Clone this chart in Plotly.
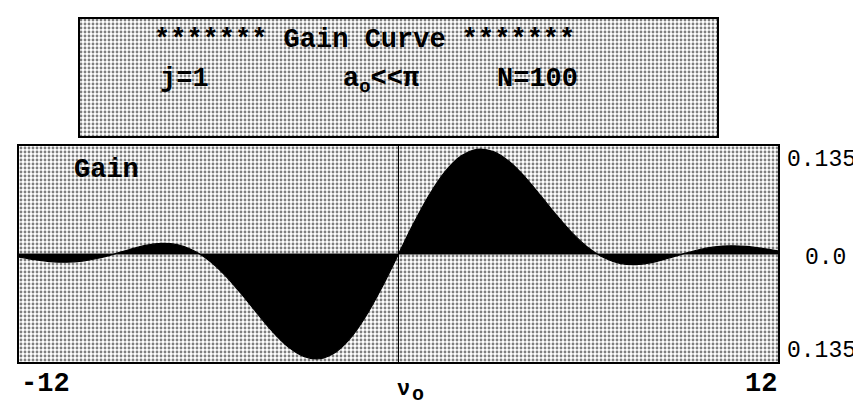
import plotly.graph_objects as go

W, H = 861, 408

# Detuning values (nu_o) and gain
nu = [-12, -11.5, -11, -10.5, -10, -9.5, -9, -8.5, -8, -7.5, -7, -6.5, -6, -5.5, -5,
      -4.5, -4, -3.5, -3, -2.5, -2, -1.5, -1, -0.5, 0, 0.5, 1, 1.5, 2, 2.5, 3, 3.5,
      4, 4.5, 5, 5.5, 6, 6.5, 7, 7.5, 8, 8.5, 9, 9.5, 10, 10.5, 11, 11.5, 12]
gain = [-0.0039, -0.0073, -0.0098, -0.0105, -0.0091, -0.0055, -0.0002, 0.0058, 0.0110,
        0.0136, 0.0120, 0.0049, -0.0081, -0.0268, -0.0498, -0.0748, -0.0990, -0.1190,
        -0.1317, -0.1348, -0.1267, -0.1073, -0.0779, -0.0410, 0.0, 0.0410, 0.0779,
        0.1073, 0.1267, 0.1348, 0.1317, 0.1190, 0.0990, 0.0748, 0.0498, 0.0268, 0.0081,
        -0.0049, -0.0120, -0.0136, -0.0110, -0.0058, 0.0002, 0.0055, 0.0091, 0.0105,
        0.0098, 0.0073, 0.0039]

x_range = [-12, 12]
y_range = [-0.139, 0.139]
y_labels = ["0.135", "0.0", "0.135"]
x_labels = ["-12", "12"]

FONT = "Liberation Mono"
pat = dict(shape=".", bgcolor="white", fgcolor="black", size=4, solidity=0.4)

def px(x):
    return x / W

def py(y):
    return 1 - y / H

fig = go.Figure()

# patterned plot background
fig.add_trace(go.Scatter(
    x=[x_range[0], x_range[1], x_range[1], x_range[0], x_range[0]],
    y=[y_range[0], y_range[0], y_range[1], y_range[1], y_range[0]],
    mode="none", fill="toself", fillpattern=pat, fillcolor="white",
    showlegend=False, hoverinfo="skip"))

# gain curve filled to zero
fig.add_trace(go.Scatter(
    x=nu, y=gain, mode="lines", line=dict(color="black", width=1.2, shape="spline"),
    fill="tozeroy", fillcolor="black", showlegend=False))

# header box background (second axes)
fig.add_trace(go.Scatter(
    x=[0, 1, 1, 0, 0], y=[0, 0, 1, 1, 0], xaxis="x2", yaxis="y2",
    mode="none", fill="toself", fillpattern=pat, fillcolor="white",
    showlegend=False, hoverinfo="skip"))

x_dom = [px(11), px(770)]
y_dom = [py(354), py(138)]

fig.update_layout(
    width=W, height=H,
    margin=dict(l=0, r=0, t=0, b=0),
    paper_bgcolor="white", plot_bgcolor="white",
    xaxis=dict(domain=x_dom, range=x_range, showgrid=False, zeroline=False,
               showticklabels=False, ticks="", showline=True, linecolor="black",
               linewidth=1.5, mirror=True),
    yaxis=dict(domain=y_dom, range=y_range, showgrid=False, zeroline=False,
               showticklabels=False, ticks="", showline=True, linecolor="black",
               linewidth=1.5, mirror=True),
    xaxis2=dict(domain=[px(71), px(710)], range=[0, 1], visible=False, anchor="y2"),
    yaxis2=dict(domain=[py(129), py(10)], range=[0, 1], visible=False, anchor="x2"),
)

# zero lines
fig.add_shape(type="line", x0=x_range[0], x1=x_range[1], y0=0, y1=0,
              line=dict(color="black", width=1.2), layer="above")
fig.add_shape(type="line", x0=0, x1=0, y0=y_range[0], y1=y_range[1],
              line=dict(color="black", width=1), layer="above")
# header box border
fig.add_shape(type="rect", xref="paper", yref="paper",
              x0=px(71), x1=px(710), y0=py(129), y1=py(10),
              line=dict(color="black", width=2))

def ann(text, x, y, size, bold=True, xanchor="left"):
    t = "<b>%s</b>" % text if bold else text
    fig.add_annotation(text=t, xref="paper", yref="paper", x=px(x), y=py(y),
                       xanchor=xanchor, yanchor="middle", showarrow=False,
                       borderpad=0,
                       font=dict(family=FONT, size=size, color="black"))

NB = "\u00a0"
ann("*******" + NB + "Gain" + NB + "Curve" + NB + "*******", 145, 32, 27)
ann("j=1", 151, 71, 27)
ann("a<sub>o</sub>&lt;&lt;π", 334, 73, 27)
ann("N=100", 488, 71, 27)

ann("Gain", 65, 162, 27)

ann(y_labels[0], 813, 152, 23, bold=False, xanchor="center")
ann(y_labels[1], 817, 250, 23, bold=False, xanchor="center")
ann(y_labels[2], 813, 343, 23, bold=False, xanchor="center")

ann(x_labels[0], 37, 376, 27, xanchor="center")
ann(x_labels[1], 753, 376, 27, xanchor="center")
ann("ν", 395, 381, 22, xanchor="center")
ann("o", 410, 386, 20, xanchor="center")

fig.write_html("out.html")
